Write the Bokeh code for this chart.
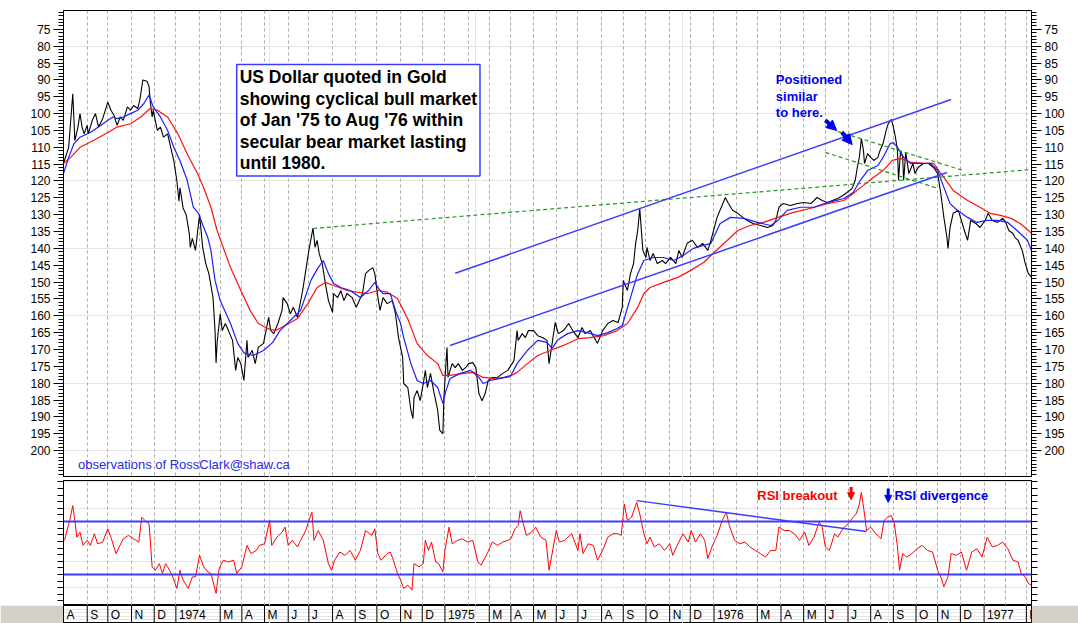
import numpy as np
from bokeh.plotting import figure
from bokeh.layouts import column
from bokeh.models import (Range1d, FixedTicker, LinearAxis, Grid, Label, Arrow,
                          NormalHead, Span, CustomJSTickFormatter)
from bokeh.core.properties import value
from bokeh.embed import file_html
from bokeh.resources import INLINE

FONT = "Liberation Sans"

# ---------------- data (x = trading-day number counted from 1 Aug 1973) ----------------
first_day = "1973-08-01"
last_day = 939

month_labels = ["A", "S", "O", "N", "D",
                "1974", "", "M", "A", "M", "J", "J", "A", "S", "O", "N", "D",
                "1975", "", "M", "A", "M", "J", "J", "A", "S", "O", "N", "D",
                "1976", "", "M", "A", "M", "J", "J", "A", "S", "O", "N", "D",
                "1977", "", "M"]

price_ticks = [75, 80, 85, 90, 95, 100, 105, 110, 115, 120, 125, 130, 135,
               140, 145, 150, 155, 160, 165, 170, 175, 180, 185, 190, 195, 200]

# US dollar quoted in gold (inverted gold price), daily close
price_day = [0, 5, 9, 11, 14, 16, 18, 20, 23, 24,
             28, 31, 34, 38, 43, 46, 49, 52, 55, 58,
             62, 65, 68, 72, 74, 77, 81, 83, 84, 86,
             87, 91, 94, 97, 101, 104, 107, 110, 112, 113,
             116, 119, 122, 123, 125, 128, 132, 135, 138, 141,
             145, 147, 148, 149, 152, 154, 157, 160, 164, 167,
             169, 172, 175, 178, 179, 183, 186, 189, 194, 199,
             201, 204, 208, 212, 213, 217, 220, 223, 227, 232,
             235, 238, 242, 243, 244, 246, 248, 251, 254, 257,
             261, 262, 266, 269, 272, 275, 280, 284, 290, 293,
             296, 300, 302, 305, 307, 310, 314, 319, 322, 325,
             329, 330, 334, 337, 339, 340, 343, 346, 349, 351,
             353, 356, 359, 363, 365, 368, 369, 371, 372, 373,
             377, 380, 383, 387, 390, 393, 397, 400, 403, 406,
             409, 412, 416, 421, 426, 431, 437, 440, 441, 445,
             448, 451, 456, 460, 465, 469, 471, 474, 477, 480,
             485, 490, 494, 499, 503, 506, 511, 518, 523, 528,
             533, 538, 542, 543, 547, 550, 553, 555, 557, 559,
             562, 565, 566, 569, 572, 576, 581, 584, 589, 594,
             597, 600, 605, 610, 615, 620, 625, 628, 634, 642,
             645, 649, 654, 659, 663, 669, 676, 683, 688, 691,
             694, 698, 705, 712, 718, 725, 731, 736, 741, 746,
             751, 756, 760, 765, 768, 770, 772, 774, 776, 777,
             780, 783, 786, 790, 792, 795, 798, 800, 803, 805,
             807, 809, 810, 812, 814, 815, 817, 820, 824, 826,
             829, 834, 839, 844, 848, 851, 854, 857, 858, 860,
             863, 868, 873, 877, 880, 885, 889, 894, 897, 901,
             906, 911, 914, 917, 921, 923, 926, 930, 933, 936,
             939]
price_val = [114.8, 110, 94.1, 108, 104, 100, 104, 106, 103.5, 106,
             102, 100, 104, 101.5, 96.6, 99, 100.5, 103.5, 101, 102,
             98, 99, 97.6, 98.5, 96, 90, 90.4, 92, 96, 101,
             99, 105, 104, 107, 106, 110, 114, 120, 126, 122,
             128, 130, 135.6, 139.7, 137, 140.6, 130, 139.7, 144.5, 147.5,
             154.5, 164.4, 174, 168, 159.4, 164.4, 162.3, 164.4, 167.3, 176.2,
             172.4, 174.2, 179.2, 167.3, 172.4, 170.3, 174.2, 169.4, 168.2, 160.5,
             164.4, 165.3, 162.3, 158.4, 154.6, 156.4, 159.4, 157.5, 160.5, 152.5,
             146.6, 140.6, 134, 136.8, 139.7, 137.6, 141.5, 144.5, 150.4, 155.5,
             159, 153.4, 154.6, 152.5, 155.5, 153.4, 154.6, 157.5, 153.4, 147.5,
             146.6, 145.7, 147.5, 154.6, 158.4, 154.6, 156.4, 155.5, 159.4, 166.5,
             172.4, 180.1, 181.3, 188, 190.5, 184.3, 182.2, 185.2, 180.1, 176.2,
             181.3, 177.1, 182.2, 188.1, 194, 195, 184.3, 174.2, 169.4, 178.3,
             174.2, 175.4, 174.2, 176.2, 175.4, 174.2, 173.9, 175.4, 183.1, 185.2,
             183.1, 179.2, 178.3, 178.3, 177.1, 176.2, 173.3, 164.4, 167.3, 165.3,
             166.5, 164.4, 164.4, 165.9, 166.5, 167.3, 174.2, 168.2, 162, 165.3,
             164.4, 162.3, 164.4, 166.5, 163.5, 165.3, 164.4, 168.2, 164.4, 162.3,
             161.4, 162, 157.5, 149.5, 152.5, 147.5, 144.5, 138.5, 134.7, 128.2,
             140.6, 142.7, 139.7, 143.6, 141.5, 144.5, 143.6, 144.5, 142.7, 144.5,
             140.6, 142.7, 138.5, 137.6, 139.7, 138.5, 140.6, 137.6, 130.8, 124.9,
             126.7, 128.7, 129.6, 130.8, 131.7, 132.6, 133.2, 133.8, 133.2, 131.7,
             127.8, 126.7, 127.3, 126.7, 126.4, 126.7, 124.9, 125.8, 126.4, 125.8,
             125.2, 124.3, 123.4, 122.2, 119.8, 116, 113, 107.4, 111, 114.8,
             111.9, 113, 113.9, 113, 111, 108.9, 105, 103, 101.7, 104,
             107, 111, 119.8, 111, 113, 119.8, 111.5, 117.8, 114.8, 117.8,
             116, 114.8, 114.8, 116, 117.8, 123.7, 130.8, 136.8, 140, 133.8,
             129.6, 128.7, 133.8, 137.6, 131.7, 132.6, 133.8, 131.7, 129.6, 131.7,
             132.3, 131.1, 132.3, 134.7, 135.6, 136.8, 137.6, 140.6, 144.5, 147.5,
             148.5]

# short moving average (blue)
fast_day = [0, 5, 10, 16, 26, 36, 43, 48, 52, 58,
            65, 72, 78, 83, 87, 94, 101, 107, 113, 120,
            126, 131, 136, 140, 143, 147, 152, 162, 169, 175,
            184, 194, 203, 210, 220, 230, 240, 247, 252, 257,
            262, 269, 278, 288, 296, 302, 306, 310, 317, 322,
            327, 330, 337, 343, 349, 356, 363, 368, 371, 375,
            385, 395, 403, 407, 414, 424, 434, 440, 450, 460,
            469, 474, 479, 489, 499, 508, 518, 528, 537, 542,
            550, 557, 563, 572, 582, 592, 601, 611, 621, 628,
            637, 647, 660, 673, 686, 693, 702, 715, 728, 741,
            757, 766, 773, 780, 790, 795, 802, 805, 809, 815,
            822, 831, 841, 848, 854, 860, 867, 877, 886, 896,
            906, 916, 925, 935, 939]
fast_val = [117.8, 113, 109, 107, 105.6, 103.5, 102, 101, 101.5, 101,
            100, 99, 97, 94.4, 98, 101, 105, 110, 114, 119.8,
            127.8, 129.6, 133.8, 136.8, 140.6, 149.5, 155.5, 162.3, 168.2, 171,
            171.8, 170.3, 167.9, 164.4, 161.4, 158.4, 149.5, 145.7, 143.6, 147.5,
            150.4, 151.6, 152.5, 154.6, 152.5, 150.1, 152, 153.4, 153.4, 158.4,
            162.3, 166.5, 174.2, 179.2, 180.1, 179.2, 181.3, 186, 182.2, 178.6,
            177.1, 176.2, 178.3, 180.1, 179.2, 178.6, 177.7, 174.2, 170.3, 167.3,
            167.9, 169.7, 167.3, 165.3, 164.4, 165, 165.9, 165, 163.8, 162.9,
            154.6, 147.5, 143.6, 142.7, 142.7, 143.6, 142.1, 140, 139.1, 138.5,
            132.6, 130.8, 131.1, 132.3, 133.2, 131.7, 128.7, 127.8, 127.8, 126.4,
            125.2, 123.4, 119.8, 116.9, 115.4, 113, 108.9, 108.6, 110, 113,
            114.8, 114.8, 114.8, 116.9, 121.9, 126.7, 128.7, 130.8, 132.3, 131.7,
            131.7, 132.3, 134.7, 137.6, 140.6]

# long moving average (red)
slow_day = [0, 7, 16, 29, 43, 52, 65, 75, 84, 91,
            101, 111, 120, 130, 136, 143, 149, 162, 172, 181,
            189, 198, 206, 215, 227, 237, 246, 254, 262, 275,
            285, 295, 305, 314, 324, 334, 343, 353, 363, 368,
            375, 388, 398, 407, 417, 431, 440, 450, 460, 472,
            485, 499, 511, 524, 537, 547, 557, 563, 569, 582,
            596, 608, 621, 628, 644, 654, 666, 679, 693, 708,
            725, 741, 757, 766, 776, 786, 795, 804, 812, 822,
            834, 844, 854, 863, 877, 889, 899, 909, 919, 928,
            936, 939]
slow_val = [114.8, 113, 110, 108, 105.6, 104, 103, 101, 98.5, 99,
            101, 106, 112, 117.8, 122, 127.8, 134.7, 145.7, 152.5, 158.4,
            162.3, 163.8, 164.4, 162.9, 160.8, 156.4, 151.6, 150.1, 151, 152.5,
            153, 153.4, 152.5, 153, 154.9, 161, 168.2, 171.8, 174.2, 177.7,
            177.7, 177.1, 176.8, 178.3, 178.6, 178.3, 176.8, 174.2, 171.8, 170.3,
            168.8, 166.8, 166.5, 165.9, 164.4, 162.3, 157.5, 153.4, 151.6, 150.1,
            148.6, 146.6, 144.2, 142.1, 137.6, 134.7, 133.2, 132.3, 130.8, 129.3,
            128.1, 126.7, 125.8, 123.7, 121.3, 118.9, 116.9, 113.9, 113.3, 114.5,
            114.8, 114.8, 118.9, 122.8, 125.8, 127.8, 129.6, 130.2, 131.1, 132.6,
            134.7, 135.6]

# RSI (lower panel)
rsi_day = [1, 6, 9, 11, 13, 16, 19, 23, 26, 30,
           33, 38, 43, 46, 51, 54, 58, 63, 68, 73,
           76, 79, 83, 86, 89, 93, 96, 99, 103, 106,
           110, 113, 116, 121, 125, 128, 132, 136, 140, 143,
           148, 151, 155, 160, 165, 168, 173, 178, 182, 187,
           190, 195, 200, 202, 207, 212, 215, 218, 222, 227,
           230, 235, 238, 241, 243, 247, 252, 257, 260, 263,
           268, 273, 278, 283, 288, 293, 299, 302, 305, 308,
           314, 317, 320, 324, 327, 330, 334, 338, 340, 345,
           349, 351, 354, 357, 361, 364, 368, 370, 374, 377,
           382, 387, 392, 397, 402, 405, 411, 416, 421, 426,
           431, 434, 438, 441, 443, 446, 449, 454, 458, 463,
           468, 471, 474, 478, 481, 486, 493, 496, 499, 501,
           504, 509, 514, 518, 523, 528, 533, 538, 541, 544,
           547, 551, 556, 559, 563, 566, 569, 573, 578, 583,
           588, 591, 596, 601, 606, 609, 613, 618, 622, 625,
           629, 634, 639, 643, 646, 651, 656, 661, 666, 671,
           676, 681, 686, 691, 694, 699, 704, 709, 714, 719,
           723, 728, 733, 736, 739, 743, 748, 751, 756, 761,
           766, 769, 772, 774, 777, 779, 783, 788, 793, 796,
           799, 803, 806, 809, 811, 814, 818, 823, 828, 833,
           838, 843, 848, 851, 854, 858, 861, 866, 871, 876,
           881, 886, 891, 896, 901, 906, 911, 916, 921, 926,
           929, 933, 936, 939]
rsi_val = [55.8, 70.8, 82, 70.8, 58.2, 62, 52, 55.8, 52, 60.8,
           53.2, 54.5, 64.5, 58.2, 45.8, 50.8, 57, 59.5, 57, 54.5,
           73.2, 70.8, 68.2, 35.8, 33.2, 38.2, 30.8, 38.2, 33.2, 28.2,
           19.5, 33.2, 25.8, 19.5, 28.2, 28.2, 44.5, 35.8, 32, 30.8,
           15.8, 34.5, 40.8, 39.5, 40.8, 30.8, 35.8, 52, 45.8, 48.2,
           52, 53.2, 70.8, 52, 58.2, 62, 65.8, 52, 55.8, 50.8,
           55.8, 63.2, 70.8, 77, 55.8, 63.2, 55.8, 38.2, 33.2, 40.8,
           47, 44.5, 48.2, 40.8, 48.2, 63.2, 59.5, 64.5, 45.8, 40.8,
           45.8, 47, 40.8, 30.8, 25.8, 19.5, 22, 18.2, 38.2, 35.8,
           38.2, 55.8, 48.2, 54.5, 39.5, 38.2, 32, 48.2, 65.8, 53.2,
           55.8, 57, 54.5, 55.8, 39.5, 37, 45.8, 54.5, 52, 54.5,
           55.8, 57, 64.5, 67, 78.2, 68.2, 59.5, 62, 65.8, 58.2,
           55.8, 33.2, 45.8, 63.2, 54.5, 55.8, 60.8, 54.5, 48.2, 60.8,
           45.8, 53.2, 52, 40.8, 48.2, 58.2, 60.8, 60.8, 59.5, 83.2,
           70.8, 73.2, 84.5, 75.8, 60.8, 53.2, 58.2, 50.8, 53.2, 48.2,
           53.2, 44.5, 53.2, 60.8, 54.5, 63.2, 54.5, 60.8, 55.8, 42.2,
           50.8, 59.5, 70.8, 77, 66.8, 55.8, 53.2, 54.5, 50.8, 48.2,
           45.8, 43.2, 48.2, 48.2, 65.8, 63.2, 63.2, 60.8, 55.8, 62,
           52, 58.2, 69.5, 65.8, 50.8, 48.2, 60.8, 58.2, 64.5, 68.2,
           73.2, 75.8, 83.2, 92, 75.8, 63.2, 65.8, 60.8, 57, 70.8,
           73.2, 74.5, 68.2, 50.8, 33.2, 45.8, 43.2, 45.8, 49.5, 52,
           48.2, 47, 33.2, 28.2, 20.8, 28.2, 45.8, 44.5, 47, 33.2,
           47, 49.5, 43.2, 58.2, 50.8, 52, 54.5, 49.5, 40.8, 39.5,
           30.8, 28.2, 23.2, 22]
rsi_levels = [70, 30]

# drawn trend lines (start / end)
channel_top_day = [380, 861]
channel_top_val = [147.4, 95.8]
channel_bottom_day = [375, 857]
channel_bottom_val = [168.8, 117.5]
green_long_day = [242, 939]
green_long_val = [134.1, 116.6]
green_upper_day = [751, 873]
green_upper_val = [105.3, 116.9]
green_lower_day = [739, 848]
green_lower_val = [111.5, 122.2]
rsi_trend_day = [556, 779]
rsi_trend_val = [85.8, 62.5]

# ---------------- calendar ticks ----------------
months = np.arange("1973-08", "1977-04", dtype="datetime64[M]").astype("datetime64[D]")
month_idx = np.busday_count(np.datetime64(first_day), months).astype(float).tolist()
lab_idx = [d for d, t in zip(month_idx, month_labels) if t]
lab_txt = [t for t in month_labels if t]

# ---------------- layout ----------------
W = 1078
LB, RB = 63, 47
BLUE = "#1c1cff"
LBLUE = "#3c3cff"
ABLUE = "#0000ee"
GREEN = "#1f9a1f"
GRID = "#a8a8a8"


def month_grid():
    return Grid(dimension=0, ticker=FixedTicker(ticks=month_idx),
                grid_line_color=GRID, grid_line_dash="3 3", grid_line_width=1)


# main price panel
p = figure(width=W, height=477, x_range=Range1d(0, last_day), y_range=Range1d(208, 69.4),
           output_backend="svg", toolbar_location=None,
           x_axis_location=None, y_axis_location=None,
           min_border_left=LB, min_border_right=RB, min_border_top=10, min_border_bottom=0,
           background_fill_color="white", border_fill_color="white",
           outline_line_color="black", outline_line_width=1)
p.add_layout(month_grid())

for side in ("left", "right"):
    ax = LinearAxis(ticker=FixedTicker(ticks=price_ticks, minor_ticks=list(range(70, 209))),
                    major_tick_out=10, major_tick_in=0, minor_tick_out=5, minor_tick_in=0,
                    major_tick_line_color="black", minor_tick_line_color="black",
                    axis_line_color="black", major_label_standoff=3,
                    major_label_text_font=FONT, major_label_text_font_size="12px",
                    major_label_text_color="black")
    p.add_layout(ax, side)

p.line(price_day, price_val, line_color="black", line_width=1.1)
p.line(slow_day, slow_val, line_color="#ff1010", line_width=1.2)
p.line(fast_day, fast_val, line_color=BLUE, line_width=1.2)

p.line(green_long_day, green_long_val, line_color=GREEN, line_width=1.2, line_dash="4 3")
p.line(green_upper_day, green_upper_val, line_color=GREEN, line_width=1.2, line_dash="4 3")
p.line(green_lower_day, green_lower_val, line_color=GREEN, line_width=1.2, line_dash="4 3")
p.line(channel_top_day, channel_top_val, line_color=LBLUE, line_width=1.5)
p.line(channel_bottom_day, channel_bottom_val, line_color=LBLUE, line_width=1.5)

p.add_layout(Label(x=168, y=85.4, x_units="data", y_units="data",
                   text="US Dollar quoted in Gold\nshowing cyclical bull market\n"
                        "of Jan '75 to Aug '76 within\nsecular bear market lasting\nuntil 1980.",
                   text_font=FONT, text_font_style="bold", text_font_size="17.5px",
                   text_color="black", text_align="left", text_baseline="top",
                   text_line_height=1.07, padding=3,
                   background_fill_color="white", border_line_color=LBLUE,
                   border_line_width=1.5))

p.add_layout(Label(x=691, y=87.8, text="Positioned\nsimilar\nto here.",
                   text_font=FONT, text_font_style="bold", text_font_size="13px",
                   text_color=ABLUE, text_align="left", text_baseline="top",
                   text_line_height=1.1))
for xs, ys, xe, ye in ((739, 102.0, 750, 105.0), (755, 105.5, 765, 109.2)):
    p.add_layout(Arrow(end=NormalHead(size=10, fill_color=ABLUE, line_color=ABLUE),
                       x_start=xs, y_start=ys, x_end=xe, y_end=ye,
                       line_color=ABLUE, line_width=4))

p.add_layout(Label(x=14, y=204.2, text="observations of RossClark@shaw.ca",
                   text_font=FONT, text_font_size="13px", text_color="#2a2ae6",
                   text_align="left", text_baseline="middle"))

# RSI panel
r = figure(width=W, height=128, x_range=p.x_range, y_range=Range1d(6.6, 101),
           output_backend="svg", toolbar_location=None,
           x_axis_location=None, y_axis_location=None,
           min_border_left=LB, min_border_right=RB, min_border_top=3, min_border_bottom=0,
           background_fill_color="white", border_fill_color="white",
           outline_line_color="black", outline_line_width=1)
r.add_layout(month_grid())
for side in ("left", "right"):
    ax = LinearAxis(ticker=FixedTicker(ticks=list(range(10, 101, 5))),
                    major_tick_out=6, major_tick_in=0, minor_tick_out=0, minor_tick_in=0,
                    axis_line_color="black", major_tick_line_color="black",
                    formatter=CustomJSTickFormatter(code="return ''"))
    r.add_layout(ax, side)
for lv in rsi_levels:
    r.add_layout(Span(location=lv, dimension="width", line_color=LBLUE, line_width=2))
r.line(rsi_day, rsi_val, line_color="#ff0000", line_width=1)
r.line(rsi_trend_day, rsi_trend_val, line_color=LBLUE, line_width=1.5)
r.add_layout(Label(x=673, y=89.6, text="RSI breakout",
                   text_font=FONT, text_font_style="bold", text_font_size="13px",
                   text_color="#ff0000", text_align="left", text_baseline="middle"))
r.add_layout(Arrow(end=NormalHead(size=7, fill_color="#ff0000", line_color="#ff0000"),
                   x_start=764, y_start=96, x_end=764, y_end=86.5,
                   line_color="#ff0000", line_width=3))
r.add_layout(Label(x=806, y=89.6, text="RSI divergence",
                   text_font=FONT, text_font_style="bold", text_font_size="13px",
                   text_color=ABLUE, text_align="left", text_baseline="middle"))
r.add_layout(Arrow(end=NormalHead(size=7, fill_color=ABLUE, line_color=ABLUE),
                   x_start=800, y_start=95, x_end=800, y_end=84.5,
                   line_color=ABLUE, line_width=3))

# month label strip
s = figure(width=W, height=18, x_range=p.x_range, y_range=Range1d(0, 1),
           output_backend="svg", toolbar_location=None,
           x_axis_location=None, y_axis_location=None,
           min_border_left=LB, min_border_right=RB, min_border_top=0, min_border_bottom=0,
           background_fill_color="white", border_fill_color="#d4d0c8",
           outline_line_color="black", outline_line_width=1)
s.segment(x0=lab_idx, y0=[0] * len(lab_idx), x1=lab_idx, y1=[1] * len(lab_idx),
          line_color="black", line_width=1)
s.text(x=lab_idx, y=[0.5] * len(lab_idx), text=lab_txt, x_offset=3,
       text_baseline="middle", text_align="left",
       text_font=value(FONT), text_font_size="12px", text_color="black")

layout = column(p, r, s, spacing=0)
open("out.html", "w").write(file_html(layout, INLINE))
